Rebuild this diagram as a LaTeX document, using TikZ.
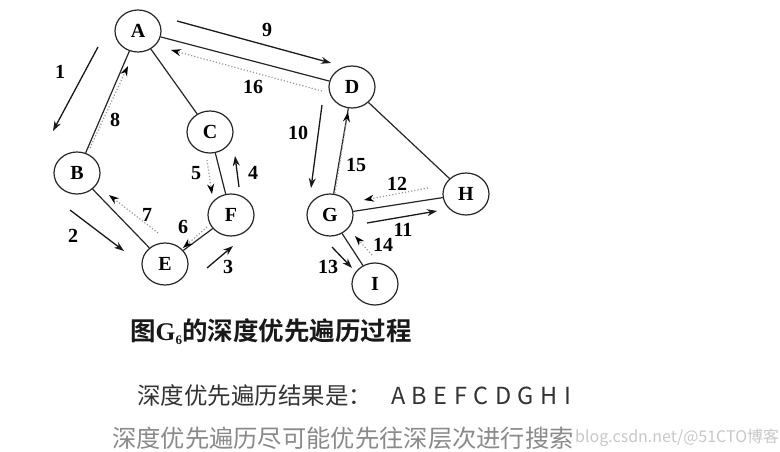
\documentclass[tikz,border=0pt]{standalone}
\usepackage{fontspec}
\setmainfont{Liberation Serif}
\newfontfamily\cjk{Noto Sans CJK SC}
\newfontfamily\cjkbold{Noto Sans CJK SC Bold}
\usetikzlibrary{arrows.meta}
\definecolor{dotgray}{HTML}{9A9A9A}
\definecolor{txtdark}{HTML}{333333}
\definecolor{txtgray}{HTML}{8A8A8A}
\definecolor{wmgray}{HTML}{C8C8C8}
\tikzset{
  vert/.style={draw=black!85, line width=1.2pt, ellipse, minimum width=46pt, minimum height=42pt, inner sep=0pt, font=\fontsize{20}{20}\selectfont\bfseries},
  edge/.style={draw=black!85, line width=1.2pt},
  fwd/.style={draw=black!90, line width=1.3pt, -{Stealth[length=10pt,width=7pt]}},
  back/.style={draw=dotgray, line width=1.2pt, dotted, -{Stealth[length=10pt,width=7pt,color=black]}},
  num/.style={font=\fontsize{20}{20}\selectfont\bfseries, inner sep=0pt}
}
\usetikzlibrary{shapes.geometric}
\begin{document}
\begin{tikzpicture}[x=1pt,y=-1pt]
\useasboundingbox[fill=white] (0,0) rectangle (780,452);
% vertices
\node[vert] (A) at (138,31) {A};
\node[vert] (B) at (77,173) {B};
\node[vert] (C) at (210,132) {C};
\node[vert] (E) at (165,264) {E};
\node[vert] (F) at (231,215) {F};
\node[vert] (D) at (352,87) {D};
\node[vert] (G) at (330,215) {G};
\node[vert] (H) at (466,194) {H};
\node[vert] (I) at (375,284) {I};
% edges
\draw[edge] (A) -- (B);
\draw[edge] (A) -- (C);
\draw[edge] (A) -- (D);
\draw[edge] (B) -- (E);
\draw[edge] (E) -- (F);
\draw[edge] (C) -- (F);
\draw[edge] (D) -- (G);
\draw[edge] (D) -- (H);
\draw[edge] (G) -- (H);
\draw[edge] (G) -- (I);
% arrow end points
\coordinate (a1s) at (98,47);   \coordinate (a1e) at (53,131);
\coordinate (a2s) at (70,210);  \coordinate (a2e) at (124,251);
\coordinate (a3s) at (207,268); \coordinate (a3e) at (233,246);
\coordinate (a4s) at (239,187); \coordinate (a4e) at (235,156);
\coordinate (a5s) at (207,160); \coordinate (a5e) at (212,194);
\coordinate (a6s) at (207,227); \coordinate (a6e) at (183,248);
\coordinate (a7s) at (158,233); \coordinate (a7e) at (109,195);
\coordinate (a8s) at (90,148);  \coordinate (a8e) at (128,66);
\coordinate (a9s) at (177,21);  \coordinate (a9e) at (331,63);
\coordinate (a10s) at (322,105); \coordinate (a10e) at (311,188);
\coordinate (a11s) at (367,223); \coordinate (a11e) at (437,211);
\coordinate (a12s) at (428,188); \coordinate (a12e) at (364,200);
\coordinate (a13s) at (332,247); \coordinate (a13e) at (352,268);
\coordinate (a14s) at (372,255); \coordinate (a14e) at (355,236);
\coordinate (a15s) at (335,193); \coordinate (a15e) at (348,112);
\coordinate (a16s) at (322,91);  \coordinate (a16e) at (171,50);
% traversal arrows
\draw[fwd] (a1s) -- (a1e);
\draw[fwd] (a2s) -- (a2e);
\draw[fwd] (a3s) -- (a3e);
\draw[fwd] (a4s) -- (a4e);
\draw[back] (a5s) -- (a5e);
\draw[back] (a6s) -- (a6e);
\draw[back] (a7s) -- (a7e);
\draw[back] (a8s) -- (a8e);
\draw[fwd] (a9s) -- (a9e);
\draw[fwd] (a10s) -- (a10e);
\draw[fwd] (a11s) -- (a11e);
\draw[back] (a12s) -- (a12e);
\draw[fwd] (a13s) -- (a13e);
\draw[back] (a14s) -- (a14e);
\draw[back] (a15s) -- (a15e);
\draw[back] (a16s) -- (a16e);
% labels
\node[num] (n1) at (60,72) {1};
\node[num] (n2) at (73,236) {2};
\node[num] (n3) at (228,267) {3};
\node[num] (n4) at (253,173) {4};
\node[num] (n5) at (196,173) {5};
\node[num] (n6) at (183,227) {6};
\node[num] (n7) at (147,215) {7};
\node[num] (n8) at (115,120) {8};
\node[num] (n9) at (267,30) {9};
\node[num] (n10) at (298,133) {10};
\node[num] (n11) at (403,230) {11};
\node[num] (n12) at (397,184) {12};
\node[num] (n13) at (328,267) {13};
\node[num] (n14) at (383,245) {14};
\node[num] (n15) at (356,165) {15};
\node[num] (n16) at (253,87) {16};
% caption
\node[anchor=west, inner sep=0pt, text=black!90, font=\fontsize{25.5}{26}\selectfont] (cap) at (130,332)
  {{\cjkbold 图}\textbf{G}\raisebox{-4pt}{\fontsize{13}{13}\selectfont\bfseries 6}{\cjkbold 的深度优先遍历过程}};
% result lines
\node[anchor=west, inner sep=0pt, text=txtdark, font=\cjk\fontsize{23.5}{24}\selectfont] (res) at (137,396)
  {深度优先遍历结果是：};
\node[anchor=west, inner sep=0pt, text=txtdark, font=\cjk\fontsize{23.5}{24}\selectfont] (seq) at (391,396)
  {A\hspace{6.5pt}B\hspace{6.5pt}E\hspace{6.5pt}F\hspace{6.5pt}C\hspace{6.5pt}D\hspace{6.5pt}G\hspace{6.5pt}H\hspace{6.5pt}I};
\node[anchor=west, inner sep=0pt, text=txtgray, font=\cjk\fontsize{24.3}{25}\selectfont] (note) at (112,438)
  {深度优先遍历尽可能优先往深层次进行搜索};
\node[anchor=west, inner sep=0pt, text=wmgray, font=\cjk\fontsize{16}{16}\selectfont] (wm) at (575,438)
  {blog.csdn.net/@51CTO博客};
\end{tikzpicture}
\end{document}
